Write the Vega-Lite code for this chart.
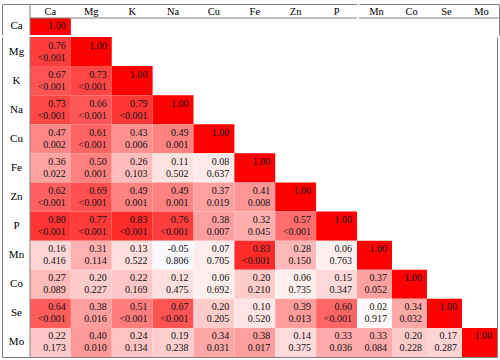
{
  "$schema": "https://vega.github.io/schema/vega-lite/v6.json",
  "padding": {"left": 2, "top": 3, "right": 3, "bottom": 5},
  "background": "white",
  "spacing": 0,
  "config": {
    "view": {"stroke": null},
    "locale": {"number": {"decimal": ".", "thousands": ",", "grouping": [3], "currency": ["$", ""], "minus": "-"}}
  },
  "datasets": {
    "cells": [
      {"row": "Ca", "col": "Ca", "r": 1.0, "p": ""},
      {"row": "Mg", "col": "Ca", "r": 0.76, "p": "<0.001"},
      {"row": "Mg", "col": "Mg", "r": 1.0, "p": ""},
      {"row": "K", "col": "Ca", "r": 0.67, "p": "<0.001"},
      {"row": "K", "col": "Mg", "r": 0.73, "p": "<0.001"},
      {"row": "K", "col": "K", "r": 1.0, "p": ""},
      {"row": "Na", "col": "Ca", "r": 0.73, "p": "<0.001"},
      {"row": "Na", "col": "Mg", "r": 0.66, "p": "<0.001"},
      {"row": "Na", "col": "K", "r": 0.79, "p": "<0.001"},
      {"row": "Na", "col": "Na", "r": 1.0, "p": ""},
      {"row": "Cu", "col": "Ca", "r": 0.47, "p": "0.002"},
      {"row": "Cu", "col": "Mg", "r": 0.61, "p": "<0.001"},
      {"row": "Cu", "col": "K", "r": 0.43, "p": "0.006"},
      {"row": "Cu", "col": "Na", "r": 0.49, "p": "0.001"},
      {"row": "Cu", "col": "Cu", "r": 1.0, "p": ""},
      {"row": "Fe", "col": "Ca", "r": 0.36, "p": "0.022"},
      {"row": "Fe", "col": "Mg", "r": 0.50, "p": "0.001"},
      {"row": "Fe", "col": "K", "r": 0.26, "p": "0.103"},
      {"row": "Fe", "col": "Na", "r": 0.11, "p": "0.502"},
      {"row": "Fe", "col": "Cu", "r": 0.08, "p": "0.637"},
      {"row": "Fe", "col": "Fe", "r": 1.0, "p": ""},
      {"row": "Zn", "col": "Ca", "r": 0.62, "p": "<0.001"},
      {"row": "Zn", "col": "Mg", "r": 0.69, "p": "<0.001"},
      {"row": "Zn", "col": "K", "r": 0.49, "p": "0.001"},
      {"row": "Zn", "col": "Na", "r": 0.49, "p": "0.001"},
      {"row": "Zn", "col": "Cu", "r": 0.37, "p": "0.019"},
      {"row": "Zn", "col": "Fe", "r": 0.41, "p": "0.008"},
      {"row": "Zn", "col": "Zn", "r": 1.0, "p": ""},
      {"row": "P", "col": "Ca", "r": 0.80, "p": "<0.001"},
      {"row": "P", "col": "Mg", "r": 0.77, "p": "<0.001"},
      {"row": "P", "col": "K", "r": 0.83, "p": "<0.001"},
      {"row": "P", "col": "Na", "r": 0.76, "p": "<0.001"},
      {"row": "P", "col": "Cu", "r": 0.38, "p": "0.007"},
      {"row": "P", "col": "Fe", "r": 0.32, "p": "0.045"},
      {"row": "P", "col": "Zn", "r": 0.57, "p": "<0.001"},
      {"row": "P", "col": "P", "r": 1.0, "p": ""},
      {"row": "Mn", "col": "Ca", "r": 0.16, "p": "0.416"},
      {"row": "Mn", "col": "Mg", "r": 0.31, "p": "0.114"},
      {"row": "Mn", "col": "K", "r": 0.13, "p": "0.522"},
      {"row": "Mn", "col": "Na", "r": -0.05, "p": "0.806"},
      {"row": "Mn", "col": "Cu", "r": 0.07, "p": "0.705"},
      {"row": "Mn", "col": "Fe", "r": 0.83, "p": "<0.001"},
      {"row": "Mn", "col": "Zn", "r": 0.28, "p": "0.150"},
      {"row": "Mn", "col": "P", "r": 0.06, "p": "0.763"},
      {"row": "Mn", "col": "Mn", "r": 1.0, "p": ""},
      {"row": "Co", "col": "Ca", "r": 0.27, "p": "0.089"},
      {"row": "Co", "col": "Mg", "r": 0.20, "p": "0.227"},
      {"row": "Co", "col": "K", "r": 0.22, "p": "0.169"},
      {"row": "Co", "col": "Na", "r": 0.12, "p": "0.475"},
      {"row": "Co", "col": "Cu", "r": 0.06, "p": "0.692"},
      {"row": "Co", "col": "Fe", "r": 0.20, "p": "0.210"},
      {"row": "Co", "col": "Zn", "r": 0.06, "p": "0.735"},
      {"row": "Co", "col": "P", "r": 0.15, "p": "0.347"},
      {"row": "Co", "col": "Mn", "r": 0.37, "p": "0.052"},
      {"row": "Co", "col": "Co", "r": 1.0, "p": ""},
      {"row": "Se", "col": "Ca", "r": 0.64, "p": "<0.001"},
      {"row": "Se", "col": "Mg", "r": 0.38, "p": "0.016"},
      {"row": "Se", "col": "K", "r": 0.51, "p": "<0.001"},
      {"row": "Se", "col": "Na", "r": 0.67, "p": "<0.001"},
      {"row": "Se", "col": "Cu", "r": 0.20, "p": "0.205"},
      {"row": "Se", "col": "Fe", "r": 0.10, "p": "0.520"},
      {"row": "Se", "col": "Zn", "r": 0.39, "p": "0.013"},
      {"row": "Se", "col": "P", "r": 0.60, "p": "<0.001"},
      {"row": "Se", "col": "Mn", "r": 0.02, "p": "0.917"},
      {"row": "Se", "col": "Co", "r": 0.34, "p": "0.032"},
      {"row": "Se", "col": "Se", "r": 1.0, "p": ""},
      {"row": "Mo", "col": "Ca", "r": 0.22, "p": "0.173"},
      {"row": "Mo", "col": "Mg", "r": 0.40, "p": "0.010"},
      {"row": "Mo", "col": "K", "r": 0.24, "p": "0.134"},
      {"row": "Mo", "col": "Na", "r": 0.19, "p": "0.238"},
      {"row": "Mo", "col": "Cu", "r": 0.34, "p": "0.031"},
      {"row": "Mo", "col": "Fe", "r": 0.38, "p": "0.017"},
      {"row": "Mo", "col": "Zn", "r": 0.14, "p": "0.375"},
      {"row": "Mo", "col": "P", "r": 0.33, "p": "0.036"},
      {"row": "Mo", "col": "Mn", "r": 0.33, "p": "0.084"},
      {"row": "Mo", "col": "Co", "r": 0.20, "p": "0.228"},
      {"row": "Mo", "col": "Se", "r": 0.17, "p": "0.287"},
      {"row": "Mo", "col": "Mo", "r": 1.0, "p": ""}
    ]
  },
  "vconcat": [
    {
      "spacing": 0,
      "hconcat": [
        {
          "width": 355,
          "height": 31,
          "layer": [
            {
              "data": {"name": "cells"},
              "transform": [{"filter": {"field": "row", "equal": "Ca"}}],
              "encoding": {
                "x": {"field": "col", "type": "nominal",
                  "scale": {"domain": ["Ca", "Mg", "K", "Na", "Cu", "Fe", "Zn", "P"], "paddingInner": 0, "paddingOuter": 0.3425, "align": 1},
                  "axis": {"orient": "top", "title": null, "ticks": false, "tickSize": 0, "domain": true, "domainColor": "#808080", "domainWidth": 1, "labelPadding": -7, "labelBaseline": "middle", "labelAngle": 0, "labelFont": "Liberation Serif", "labelFontSize": 10.5, "labelColor": "#000000", "labelOverlap": false}},
                "y": {"field": "row", "type": "nominal",
                  "scale": {"domain": ["Ca"], "paddingInner": 0, "paddingOuter": 0.41176, "align": 1},
                  "axis": {"orient": "left", "title": null, "ticks": false, "tickSize": 0, "domain": true, "domainColor": "#808080", "domainWidth": 1, "labelPadding": -14, "labelAlign": "center", "labelBaseline": "middle", "labelFont": "Liberation Serif", "labelFontSize": 11, "labelColor": "#000000"}}
              },
              "layer": [
                {"mark": {"type": "rect"},
                 "encoding": {"color": {"field": "r", "type": "quantitative", "scale": {"domain": [-1, 0, 1], "range": ["#5b7fd0", "#ffffff", "#ff0000"], "interpolate": "rgb"}, "legend": null}}},
                {"mark": {"type": "text", "align": "right", "baseline": "middle", "dx": -5, "dy": 0, "font": "Liberation Serif", "fontSize": 10, "color": "#111111"},
                 "encoding": {"x": {"field": "col", "type": "nominal", "bandPosition": 1}, "text": {"field": "r", "type": "quantitative", "format": ".2f"}}}
              ]
            },
            {
              "data": {"values": [{}]},
              "mark": {"type": "rule", "color": "#808080", "strokeWidth": 1},
              "encoding": {"x": {"datum": "Ca", "type": "nominal", "bandPosition": 0}}
            },
            {
              "data": {"values": [{}]},
              "mark": {"type": "rule", "color": "#808080", "strokeWidth": 1},
              "encoding": {
                "y": {"datum": "Ca", "type": "nominal", "bandPosition": 0},
                "x": {"datum": "Ca", "type": "nominal", "bandPosition": 0},
                "x2": {"datum": "P", "bandPosition": 1}
              }
            }
          ]
        },
        {
          "width": 140,
          "height": 31,
          "data": {"values": [{}]},
          "mark": {"type": "rule", "color": "#808080", "strokeWidth": 1},
          "encoding": {
            "y": {"datum": "Ca", "type": "nominal", "bandPosition": 0,
              "scale": {"domain": ["Ca"], "paddingInner": 0, "paddingOuter": 0.41176, "align": 1},
              "axis": {"orient": "right", "title": null, "labels": false, "ticks": false, "domain": true, "domainColor": "#808080", "domainWidth": 1}},
            "x": {"datum": "Mn", "type": "nominal", "bandPosition": 0,
              "scale": {"domain": ["Mn", "Co", "Se", "Mo"], "paddingInner": 0, "paddingOuter": 0},
              "axis": {"orient": "top", "title": null, "ticks": false, "tickSize": 0, "domain": true, "domainColor": "#808080", "domainWidth": 1, "labelPadding": -7, "labelBaseline": "middle", "labelAngle": 0, "labelFont": "Liberation Serif", "labelFontSize": 10.5, "labelColor": "#000000", "labelOverlap": false}},
            "x2": {"datum": "Mo", "bandPosition": 1}
          }
        }
      ]
    },
    {
      "spacing": 0,
      "hconcat": [
        {
          "width": 355,
          "height": 320,
          "layer": [
            {
              "data": {"name": "cells"},
              "transform": [{"filter": {"and": [{"not": {"field": "row", "equal": "Ca"}}, {"field": "col", "oneOf": ["Ca", "Mg", "K", "Na", "Cu", "Fe", "Zn", "P"]}]}}],
              "encoding": {
                "x": {"field": "col", "type": "nominal",
                  "scale": {"domain": ["Ca", "Mg", "K", "Na", "Cu", "Fe", "Zn", "P"], "paddingInner": 0, "paddingOuter": 0.3425, "align": 1},
                  "axis": {"orient": "bottom", "title": null, "labels": false, "ticks": false, "domain": true, "domainColor": "#808080", "domainWidth": 1}},
                "y": {"field": "row", "type": "nominal",
                  "scale": {"domain": ["Mg", "K", "Na", "Cu", "Fe", "Zn", "P", "Mn", "Co", "Se", "Mo"], "paddingInner": 0, "paddingOuter": 0},
                  "axis": {"orient": "left", "title": null, "ticks": false, "tickSize": 0, "domain": true, "domainColor": "#808080", "domainWidth": 1, "labelPadding": -14, "labelAlign": "center", "labelBaseline": "middle", "labelFont": "Liberation Serif", "labelFontSize": 11, "labelColor": "#000000"}}
              },
              "layer": [
                {"mark": {"type": "rect"},
                 "encoding": {"color": {"field": "r", "type": "quantitative", "scale": {"domain": [-1, 0, 1], "range": ["#5b7fd0", "#ffffff", "#ff0000"], "interpolate": "rgb"}, "legend": null}}},
                {"mark": {"type": "text", "align": "right", "baseline": "middle", "dx": -5, "dy": -6, "font": "Liberation Serif", "fontSize": 10, "color": "#111111"},
                 "encoding": {"x": {"field": "col", "type": "nominal", "bandPosition": 1}, "text": {"field": "r", "type": "quantitative", "format": ".2f"}}},
                {"mark": {"type": "text", "align": "right", "baseline": "middle", "dx": -5, "dy": 6, "font": "Liberation Serif", "fontSize": 10, "color": "#111111"},
                 "encoding": {"x": {"field": "col", "type": "nominal", "bandPosition": 1}, "text": {"field": "p", "type": "nominal"}}}
              ]
            },
            {
              "data": {"values": [{}]},
              "mark": {"type": "rule", "color": "#808080", "strokeWidth": 1},
              "encoding": {"x": {"datum": "Ca", "type": "nominal", "bandPosition": 0}}
            }
          ]
        },
        {
          "width": 140,
          "height": 320,
          "data": {"name": "cells"},
          "transform": [{"filter": {"field": "col", "oneOf": ["Mn", "Co", "Se", "Mo"]}}],
          "encoding": {
            "x": {"field": "col", "type": "nominal",
              "scale": {"domain": ["Mn", "Co", "Se", "Mo"], "paddingInner": 0, "paddingOuter": 0},
              "axis": {"orient": "bottom", "title": null, "labels": false, "ticks": false, "domain": true, "domainColor": "#808080", "domainWidth": 1}},
            "y": {"field": "row", "type": "nominal",
              "scale": {"domain": ["Mg", "K", "Na", "Cu", "Fe", "Zn", "P", "Mn", "Co", "Se", "Mo"], "paddingInner": 0, "paddingOuter": 0},
              "axis": {"orient": "right", "title": null, "labels": false, "ticks": false, "domain": true, "domainColor": "#808080", "domainWidth": 1}}
          },
          "layer": [
            {"mark": {"type": "rect"},
             "encoding": {"color": {"field": "r", "type": "quantitative", "scale": {"domain": [-1, 0, 1], "range": ["#5b7fd0", "#ffffff", "#ff0000"], "interpolate": "rgb"}, "legend": null}}},
            {"mark": {"type": "text", "align": "right", "baseline": "middle", "dx": -5, "dy": -6, "font": "Liberation Serif", "fontSize": 10, "color": "#111111"},
             "encoding": {"x": {"field": "col", "type": "nominal", "bandPosition": 1}, "text": {"field": "r", "type": "quantitative", "format": ".2f"}}},
            {"mark": {"type": "text", "align": "right", "baseline": "middle", "dx": -5, "dy": 6, "font": "Liberation Serif", "fontSize": 10, "color": "#111111"},
             "encoding": {"x": {"field": "col", "type": "nominal", "bandPosition": 1}, "text": {"field": "p", "type": "nominal"}}}
          ]
        }
      ]
    }
  ]
}
